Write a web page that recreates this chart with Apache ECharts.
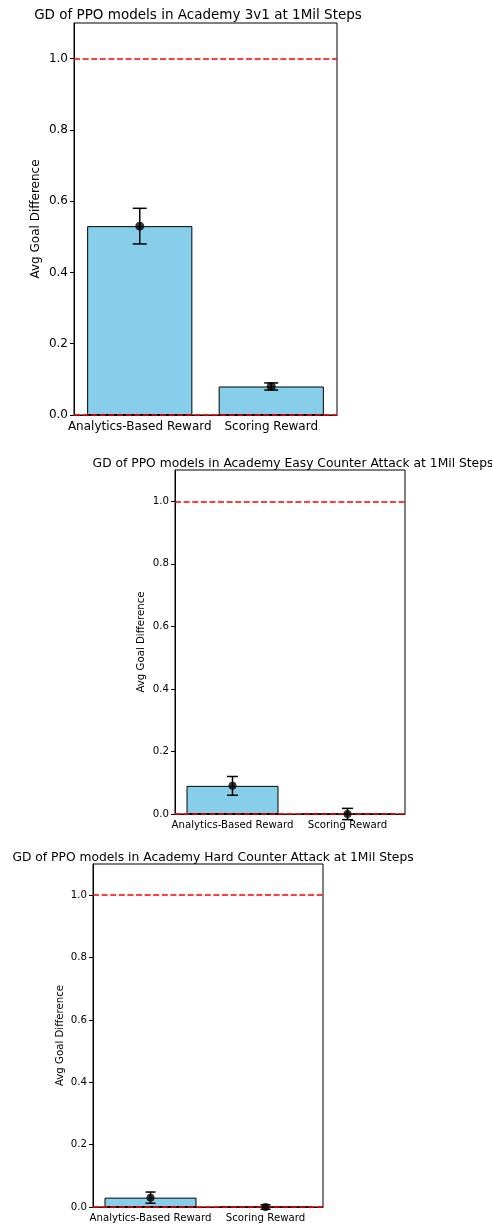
<!DOCTYPE html>
<html><head><meta charset="utf-8">
<script src="https://cdn.jsdelivr.net/npm/echarts@6/dist/echarts.min.js"></script>
<style>html,body{margin:0;padding:0;background:#fff}#c{width:492px;height:1229px}</style>
</head><body><div id="c"></div>
<script>
const categories = ['Analytics-Based Reward', 'Scoring Reward'];
const titles = [
  'GD of PPO models in Academy 3v1 at 1Mil Steps',
  'GD of PPO models in Academy Easy Counter Attack at 1Mil Steps',
  'GD of PPO models in Academy Hard Counter Attack at 1Mil Steps'
];
const means3v1 = [0.53, 0.08];
const err3v1 = [0.05, 0.01];
const meansEasy = [0.09, 0.0];
const errEasy = [0.03, 0.018];
const meansHard = [0.03, 0.0];
const errHard = [0.018, 0.007];
const yTicks = [0, 0.2, 0.4, 0.6, 0.8, 1.0];
const refLines = [1.0, 0.0];

const FONT = 'DejaVu Sans';
const panels = [
  {means: means3v1, errs: err3v1, grid: {left: 74, top: 23, width: 263, height: 392}, fs: 12, tfs: 13.5, title: {x: 193, y: 3}, nameGap: 32, cap: 14, dot: 9},
  {means: meansEasy, errs: errEasy, grid: {left: 175, top: 470, width: 230, height: 344}, fs: 10.2, tfs: 12.3, title: {x: 288, y: 453}, nameGap: 29, cap: 11, dot: 8},
  {means: meansHard, errs: errHard, grid: {left: 93, top: 864, width: 230, height: 343}, fs: 10.2, tfs: 12.3, title: {x: 208, y: 847}, nameGap: 28, cap: 10, dot: 8}
];

const option = {
  animation: false,
  backgroundColor: '#fff',
  title: [], grid: [], xAxis: [], yAxis: [], series: []
};

panels.forEach((p, i) => {
  option.title.push({
    text: titles[i], left: p.title.x, top: p.title.y, textAlign: 'center',
    textStyle: {fontFamily: FONT, fontSize: p.tfs, fontWeight: 'normal', color: '#000'}
  });
  option.grid.push(Object.assign({show: true, borderColor: '#000', borderWidth: 1, backgroundColor: 'transparent'}, p.grid));
  option.xAxis.push({
    type: 'category', gridIndex: i, data: categories,
    axisLine: {lineStyle: {color: '#000', width: 1}},
    axisTick: {alignWithLabel: true, length: 4, lineStyle: {color: '#000'}},
    axisLabel: {fontFamily: FONT, fontSize: p.fs, color: '#000', margin: 6, interval: 0},
    splitLine: {show: false}
  });
  option.yAxis.push({
    type: 'value', gridIndex: i, min: 0, max: 1.1,
    name: 'Avg Goal Difference', nameLocation: 'middle', nameGap: p.nameGap, nameRotate: 90,
    nameMoveOverlap: false,
    nameTextStyle: {fontFamily: FONT, fontSize: p.fs, color: '#000'},
    axisLine: {show: true, lineStyle: {color: '#000', width: 1}},
    axisTick: {show: true, length: 4, lineStyle: {color: '#000'}, customValues: yTicks},
    axisLabel: {fontFamily: FONT, fontSize: p.fs, color: '#000', margin: 6, customValues: yTicks,
      formatter: v => v.toFixed(1)},
    splitLine: {show: false}
  });
  option.series.push({
    type: 'bar', xAxisIndex: i, yAxisIndex: i, data: p.means, barWidth: '80%',
    itemStyle: {color: '#87CEEB', borderColor: '#000', borderWidth: 1},
    z: 2,
    markLine: {
      silent: true, symbol: 'none', label: {show: false},
      lineStyle: {color: '#ff0000', type: [6, 2.6], width: 1.5},
      data: refLines.map(v => ({yAxis: v}))
    }
  });
  option.series.push({
    type: 'custom', xAxisIndex: i, yAxisIndex: i, z: 5,
    data: p.means.map((m, k) => [k, m - p.errs[k], m + p.errs[k]]),
    renderItem: (params, api) => {
      const lo = api.coord([api.value(0), api.value(1)]);
      const hi = api.coord([api.value(0), api.value(2)]);
      const h = p.cap / 2;
      const st = {stroke: '#000', lineWidth: 1.5};
      return {type: 'group', children: [
        {type: 'line', shape: {x1: lo[0], y1: lo[1], x2: hi[0], y2: hi[1]}, style: st},
        {type: 'line', shape: {x1: lo[0] - h, y1: lo[1], x2: lo[0] + h, y2: lo[1]}, style: st},
        {type: 'line', shape: {x1: hi[0] - h, y1: hi[1], x2: hi[0] + h, y2: hi[1]}, style: st}
      ]};
    }
  });
  option.series.push({
    type: 'scatter', xAxisIndex: i, yAxisIndex: i, z: 6,
    data: p.means.map((m, k) => [k, m]),
    symbol: 'circle', symbolSize: p.dot, itemStyle: {color: '#000'}
  });
});

const chart = echarts.init(document.getElementById('c'), null, {renderer: 'canvas'});
chart.setOption(option);
</script>
</body></html>
